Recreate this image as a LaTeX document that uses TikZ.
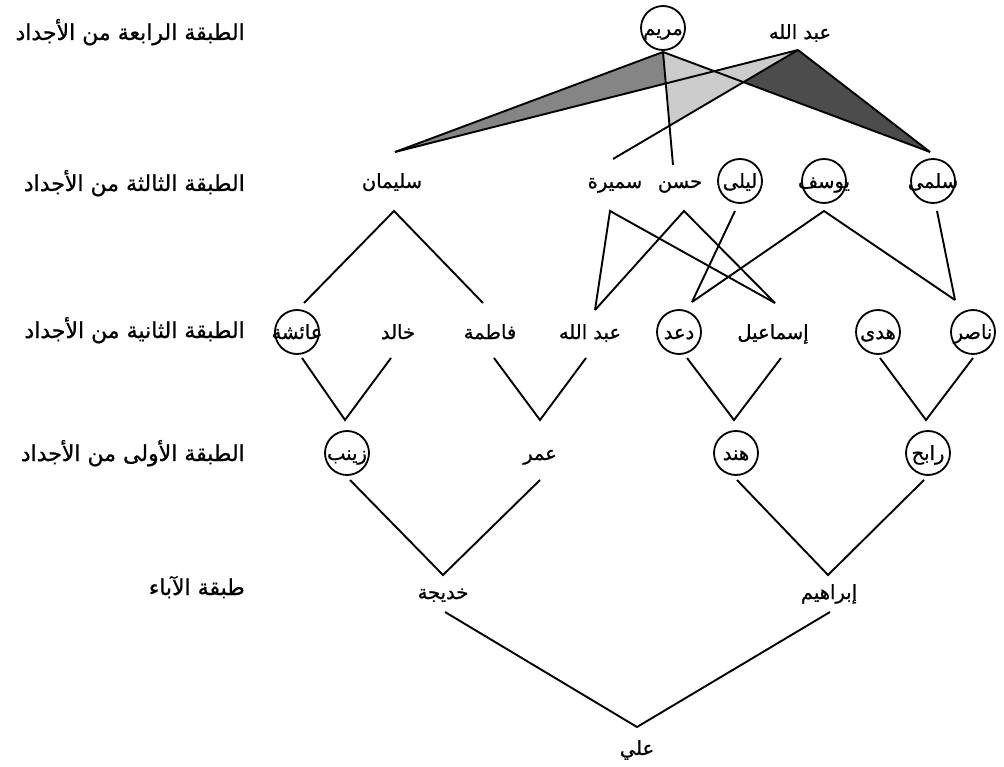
\documentclass[tikz,border=0pt]{standalone}
\usepackage{fontspec}
\newfontfamily\arabicfont[Script=Arabic,FakeBold=0.8]{DejaVu Sans}
\TeXXeTstate=1
\usetikzlibrary{calc}
\newcommand{\rtl}[1]{\beginR #1\endR}
\newcommand{\zrtl}[1]{\makebox[0pt]{\beginR #1\endR}}
\tikzset{
  nm/.style={font=\arabicfont\fontsize{19.5}{21}\selectfont, inner sep=0pt, text height=15pt, text depth=1pt},
  cnm/.style={nm, circle, draw, line width=1.8pt, minimum size=44pt},
  lab/.style={font=\arabicfont\fontsize{22}{24}\selectfont, anchor=east, inner sep=0pt, text height=17pt, text depth=1pt},
  ln/.style={line width=1.9pt},
  fillA/.style={fill=black!48},
  fillB/.style={fill=black!20},
  fillC/.style={fill=black!70},
}
\begin{document}
\begin{tikzpicture}[x=1pt,y=-1pt]
\useasboundingbox (0,0) rectangle (1004,767);
% row labels
\node[lab] (l4) at (245,32) {\rtl{الطبقة الرابعة من الأجداد}};
\node[lab] (l3) at (245,183) {\rtl{الطبقة الثالثة من الأجداد}};
\node[lab] (l2) at (245,330) {\rtl{الطبقة الثانية من الأجداد}};
\node[lab] (l1) at (245,453) {\rtl{الطبقة الأولى من الأجداد}};
\node[lab] (l0) at (245,587) {\rtl{طبقة الآباء}};
% row 4
\node[cnm] (mary) at (663,28) {\zrtl{مريم}};
\node[nm] (abd4) at (800,32) {\rtl{عبد الله}};
% row 3
\node[nm] (sul) at (392,181) {\rtl{سليمان}};
\node[nm] (sam) at (615,181) {\rtl{سميرة}};
\node[nm] (has) at (680,181) {\rtl{حسن}};
\node[cnm] (lay) at (740,181) {\zrtl{ليلى}};
\node[cnm] (yus) at (824,181) {\zrtl{يوسف}};
\node[cnm] (sal) at (933,181) {\zrtl{سلمى}};
% row 2
\node[cnm] (aisha) at (297,332) {\zrtl{عائشة}};
\node[nm] (khal) at (398,332) {\rtl{خالد}};
\node[nm] (fat) at (490,332) {\rtl{فاطمة}};
\node[nm] (abd2) at (590,332) {\rtl{عبد الله}};
\node[cnm] (daad) at (679,332) {\zrtl{دعد}};
\node[nm] (ism) at (773,332) {\rtl{إسماعيل}};
\node[cnm] (huda) at (878,332) {\zrtl{هدى}};
\node[cnm] (nasir) at (973,332) {\zrtl{ناصر}};
% row 1
\node[cnm] (zay) at (347,453) {\zrtl{زينب}};
\node[nm] (omar) at (540,453) {\rtl{عمر}};
\node[cnm] (hind) at (736,453) {\zrtl{هند}};
\node[cnm] (rabih) at (928,453) {\zrtl{رابح}};
% parents
\node[nm] (khad) at (443,592) {\rtl{خديجة}};
\node[nm] (ibr) at (829,592) {\rtl{إبراهيم}};
% self
\node[nm] (ali) at (637,748) {\rtl{علي}};
% ports
\coordinate (mary-o) at ($(mary)+(0,24)$);
\coordinate (abd4-o) at ($(abd4)+(-2,18)$);
\coordinate (sul-i) at ($(sul)+(3,-29)$);
\coordinate (sul-o) at ($(sul)+(2,30)$);
\coordinate (sam-i) at ($(sam)+(-2,-22)$);
\coordinate (sam-o) at ($(sam)+(-5,30)$);
\coordinate (has-i) at ($(has)+(-7,-16)$);
\coordinate (has-o) at ($(has)+(4,30)$);
\coordinate (lay-o) at ($(lay)+(-5,30)$);
\coordinate (yus-o) at ($(yus)+(0,30)$);
\coordinate (sal-i) at ($(sal)+(-3,-29)$);
\coordinate (sal-o) at ($(sal)+(4,30)$);
\coordinate (aisha-i) at ($(aisha)+(7,-29)$);
\coordinate (aisha-o) at ($(aisha)+(5,26)$);
\coordinate (khal-o) at ($(khal)+(-7,26)$);
\coordinate (fat-i) at ($(fat)+(-7,-29)$);
\coordinate (fat-o) at ($(fat)+(4,26)$);
\coordinate (abd2-i) at ($(abd2)+(5,-22)$);
\coordinate (abd2-o) at ($(abd2)+(-4,26)$);
\coordinate (daad-i) at ($(daad)+(13,-30)$);
\coordinate (daad-o) at ($(daad)+(8,26)$);
\coordinate (ism-i) at ($(ism)+(2,-29)$);
\coordinate (ism-o) at ($(ism)+(8,26)$);
\coordinate (huda-o) at ($(huda)+(2,26)$);
\coordinate (nasir-i) at ($(nasir)+(-18,-32)$);
\coordinate (nasir-o) at ($(nasir)+(0,26)$);
\coordinate (zay-i) at ($(zay)+(-2,-33)$);
\coordinate (zay-o) at ($(zay)+(3,27)$);
\coordinate (omar-i) at ($(omar)+(0,-33)$);
\coordinate (omar-o) at ($(omar)+(0,27)$);
\coordinate (hind-i) at ($(hind)+(-2,-33)$);
\coordinate (hind-o) at ($(hind)+(1,27)$);
\coordinate (rabih-i) at ($(rabih)+(-2,-33)$);
\coordinate (rabih-o) at ($(rabih)+(-4,27)$);
\coordinate (khad-i) at ($(khad)+(0,-17)$);
\coordinate (khad-o) at ($(khad)+(2,20)$);
\coordinate (ibr-i) at ($(ibr)+(-1,-17)$);
\coordinate (ibr-o) at ($(ibr)+(1,20)$);
\coordinate (ali-i) at ($(ali)+(0,-21)$);
% intersections for shaded wedges
\coordinate (x24) at (intersection of mary-o--has-i and abd4-o--sul-i);
\coordinate (x25) at (intersection of mary-o--has-i and abd4-o--sam-i);
\coordinate (x34) at (intersection of mary-o--sal-i and abd4-o--sul-i);
\coordinate (x35) at (intersection of mary-o--sal-i and abd4-o--sam-i);
\fill[fillA] (sul-i) -- (mary-o) -- (x24) -- cycle;
\fill[fillB] (mary-o) -- (x34) -- (abd4-o) -- (x25) -- cycle;
\fill[fillC] (abd4-o) -- (x35) -- (sal-i) -- cycle;
% connectors row 4 -> row 3
\draw[ln] (mary-o) -- (sul-i);
\draw[ln] (mary-o) -- (has-i);
\draw[ln] (mary-o) -- (sal-i);
\draw[ln] (abd4-o) -- (sul-i);
\draw[ln] (abd4-o) -- (sam-i);
\draw[ln] (abd4-o) -- (sal-i);
% row 3 -> row 2
\draw[ln] (aisha-i) -- (sul-o) -- (fat-i);
\draw[ln] (abd2-i) -- (sam-o) -- (ism-i);
\draw[ln] (abd2-i) -- (has-o) -- (ism-i);
\draw[ln] (lay-o) -- (daad-i);
\draw[ln] (daad-i) -- (yus-o) -- (nasir-i);
\draw[ln] (sal-o) -- (nasir-i);
% row 2 -> row 1
\draw[ln] (aisha-o) -- (zay-i) -- (khal-o);
\draw[ln] (fat-o) -- (omar-i) -- (abd2-o);
\draw[ln] (daad-o) -- (hind-i) -- (ism-o);
\draw[ln] (huda-o) -- (rabih-i) -- (nasir-o);
% row 1 -> parents
\draw[ln] (zay-o) -- (khad-i) -- (omar-o);
\draw[ln] (hind-o) -- (ibr-i) -- (rabih-o);
% parents -> self
\draw[ln] (khad-o) -- (ali-i) -- (ibr-o);
\end{tikzpicture}
\end{document}
